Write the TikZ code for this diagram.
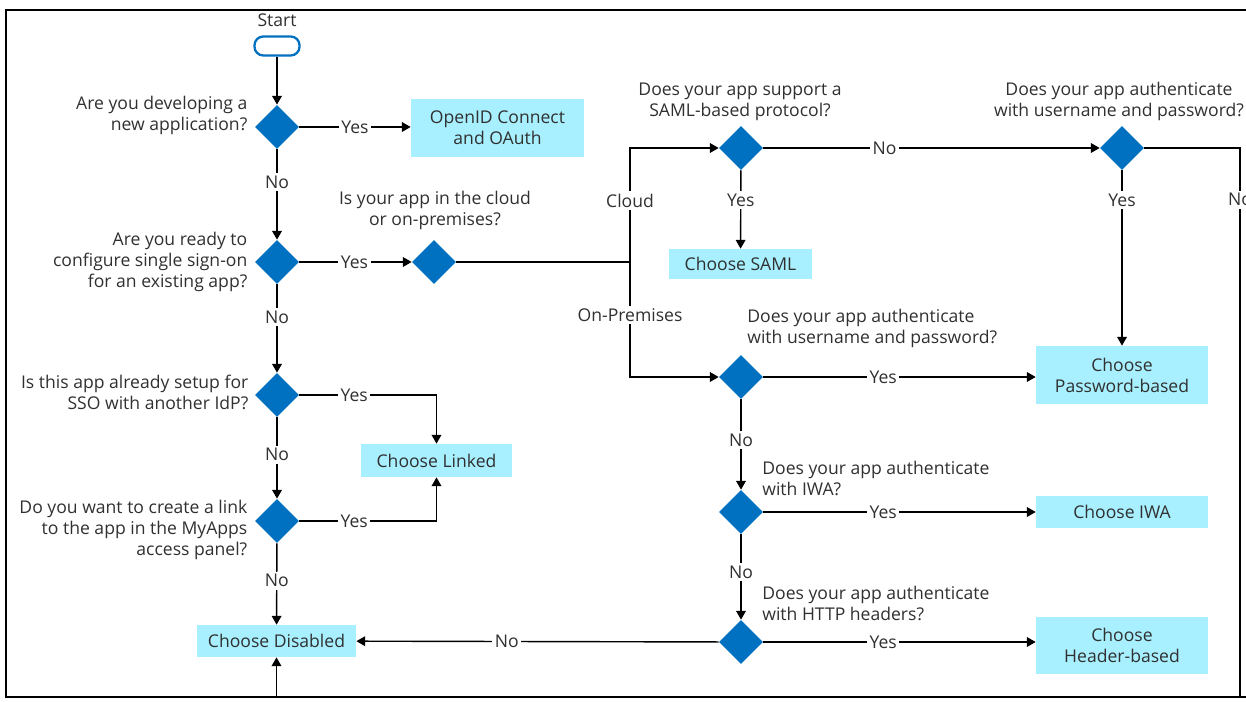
\documentclass[tikz,border=0pt]{standalone}
\usepackage{fontspec}
\setmainfont{Open Sans}
\usetikzlibrary{shapes.geometric,arrows.meta,positioning}
\definecolor{msblue}{RGB}{0,112,192}
\definecolor{boxcyan}{RGB}{168,240,255}
\definecolor{ink}{RGB}{48,48,48}
\tikzset{decision/.style={diamond, fill=msblue, minimum width=0.88cm, minimum height=0.88cm, inner sep=0pt}}
\tikzset{choice/.style={fill=boxcyan, text=ink, align=center, inner sep=0pt, font=\fontsize{10}{12}\selectfont}}
\tikzset{question/.style={text=ink, inner sep=0pt, font=\fontsize{10}{12}\selectfont}}
\tikzset{answer/.style={fill=white, text=ink, inner sep=1.5pt, font=\fontsize{10}{12}\selectfont}}
\tikzset{line/.style={draw, line width=0.8pt, -{Triangle[length=5pt,width=5.5pt]}}}
\tikzset{link/.style={draw, line width=0.8pt}}

\begin{document}
\begin{tikzpicture}[x=0.02cm, y=-0.02cm]
	\useasboundingbox (0,0) rectangle (1246,702);
	\draw [line width=1.3pt] (1246,10) -- (6,10) -- (6,697) -- (1246,697);

	% left column
	\node [question]												(start) at (277,20) {Start};
	\node [draw=msblue, line width=1.3pt, rounded corners=5pt, minimum width=0.9cm, minimum height=0.38cm, fill=white] (term) at (277,46) {};
	\node [decision]												(d1) at (277,127) {};
	\node [decision]												(d2) at (277,262) {};
	\node [decision]												(d3) at (277,395) {};
	\node [decision]												(d4) at (277,521) {};
	\node [question, align=right, left=0.14cm of d1, yshift=0.24cm]	(q1) {Are you developing a\\new application?};
	\node [question, align=right, left=0.14cm of d2]				(q2) {Are you ready to\\configure single sign-on\\for an existing app?};
	\node [question, align=right, left=0.12cm of d3, yshift=0.06cm]	(q3) {Is this app already setup for\\SSO with another IdP?};
	\node [question, align=right, left=0.14cm of d4, yshift=-0.18cm]	(q4) {Do you want to create a link\\to the app in the MyApps\\access panel?};

	\node [choice, minimum width=3.46cm, minimum height=1.16cm]		(oidc) at (497.5,128) {OpenID Connect\\and OAuth};
	\node [choice, minimum width=3.02cm, minimum height=0.66cm]		(linked) at (436.5,460.5) {Choose Linked};
	\node [choice, minimum width=3.18cm, minimum height=0.64cm]		(disabled) at (276.5,641) {Choose Disabled};

	% cloud or on-premises
	\node [decision]												(dcloud) at (434,262) {};
	\node [question, align=center]									(qcloud) at (435,210) {Is your app in the cloud\\or on-premises?};
	\coordinate														(split) at (630,262);

	% right part
	\node [decision]												(dsaml) at (741,148) {};
	\node [question, align=center]									(qsaml) at (740,102) {Does your app support a\\SAML-based protocol?};
	\node [choice, minimum width=2.86cm, minimum height=0.6cm]		(saml) at (740.5,264) {Choose SAML};
	\node [decision]												(dpwd) at (1122,148) {};
	\node [question, align=center]									(qpwd) at (1119,101) {Does your app authenticate\\with username and password?};
	\node [decision]												(dup) at (741,377) {};
	\node [question, align=left, anchor=west]						(qup) at (747,328) {Does your app authenticate\\with username and password?};
	\node [decision]												(diwa) at (741,512) {};
	\node [question, align=left, anchor=west]						(qiwa) at (762,478) {Does your app authenticate\\with IWA?};
	\node [decision]												(dhttp) at (741,642) {};
	\node [question, align=left, anchor=west]						(qhttp) at (762,603) {Does your app authenticate\\with HTTP headers?};
	\node [choice, minimum width=3.44cm, minimum height=1.16cm]		(password) at (1122,375) {Choose\\Password-based};
	\node [choice, minimum width=3.44cm, minimum height=0.64cm]		(iwa) at (1122,512) {Choose IWA};
	\node [choice, minimum width=3.44cm, minimum height=1.14cm]		(header) at (1122,645.5) {Choose\\Header-based};
	\coordinate														(corner) at (1240,697);

	% connectors
	\path [line] (term) -- (d1);
	\path [line] (d1) -- node [answer, pos=0.5] {Yes} (d1 -| oidc.west);
	\path [line] (d1) -- node [answer, pos=0.36] {No} (d2);
	\path [line] (d2) -- node [answer, pos=0.49] {Yes} (dcloud);
	\path [line] (d2) -- node [answer, pos=0.37] {No} (d3);
	\path [line] (d3) -| node [answer, pos=0.2] {Yes} (linked);
	\path [line] (d3) -- node [answer, pos=0.46] {No} (d4);
	\path [line] (d4) -| node [answer, pos=0.2] {Yes} (linked);
	\path [line] (d4) -- node [answer, pos=0.46] {No} (disabled);

	\path [link] (dcloud) -- (split);
	\path [line] (split) |- node [answer, pos=0.27] {Cloud} (dsaml);
	\path [line] (split) |- node [answer, pos=0.23] {On-Premises} (dup);

	\path [line] (dsaml) -- node [answer, pos=0.38] {Yes} (saml);
	\path [line] (dsaml) -- node [answer, pos=0.36] {No} (dpwd);
	\path [line] (dpwd) -- node [answer, pos=0.17] {Yes} (password);
	\path [line] (dpwd) -| node [answer, pos=0.547] {No} (corner) -| (disabled);

	\path [line] (dup) -- node [answer, pos=0.44] {Yes} (dup -| password.west);
	\path [line] (dup) -- node [answer, pos=0.45] {No} (diwa);
	\path [line] (diwa) -- node [answer, pos=0.44] {Yes} (iwa);
	\path [line] (diwa) -- node [answer, pos=0.44] {No} (dhttp);
	\path [line] (dhttp) -- node [answer, pos=0.44] {Yes} (dhttp -| header.west);
	\path [line] (dhttp) -- node [answer, pos=0.585] {No} (disabled);
\end{tikzpicture}
\end{document}
